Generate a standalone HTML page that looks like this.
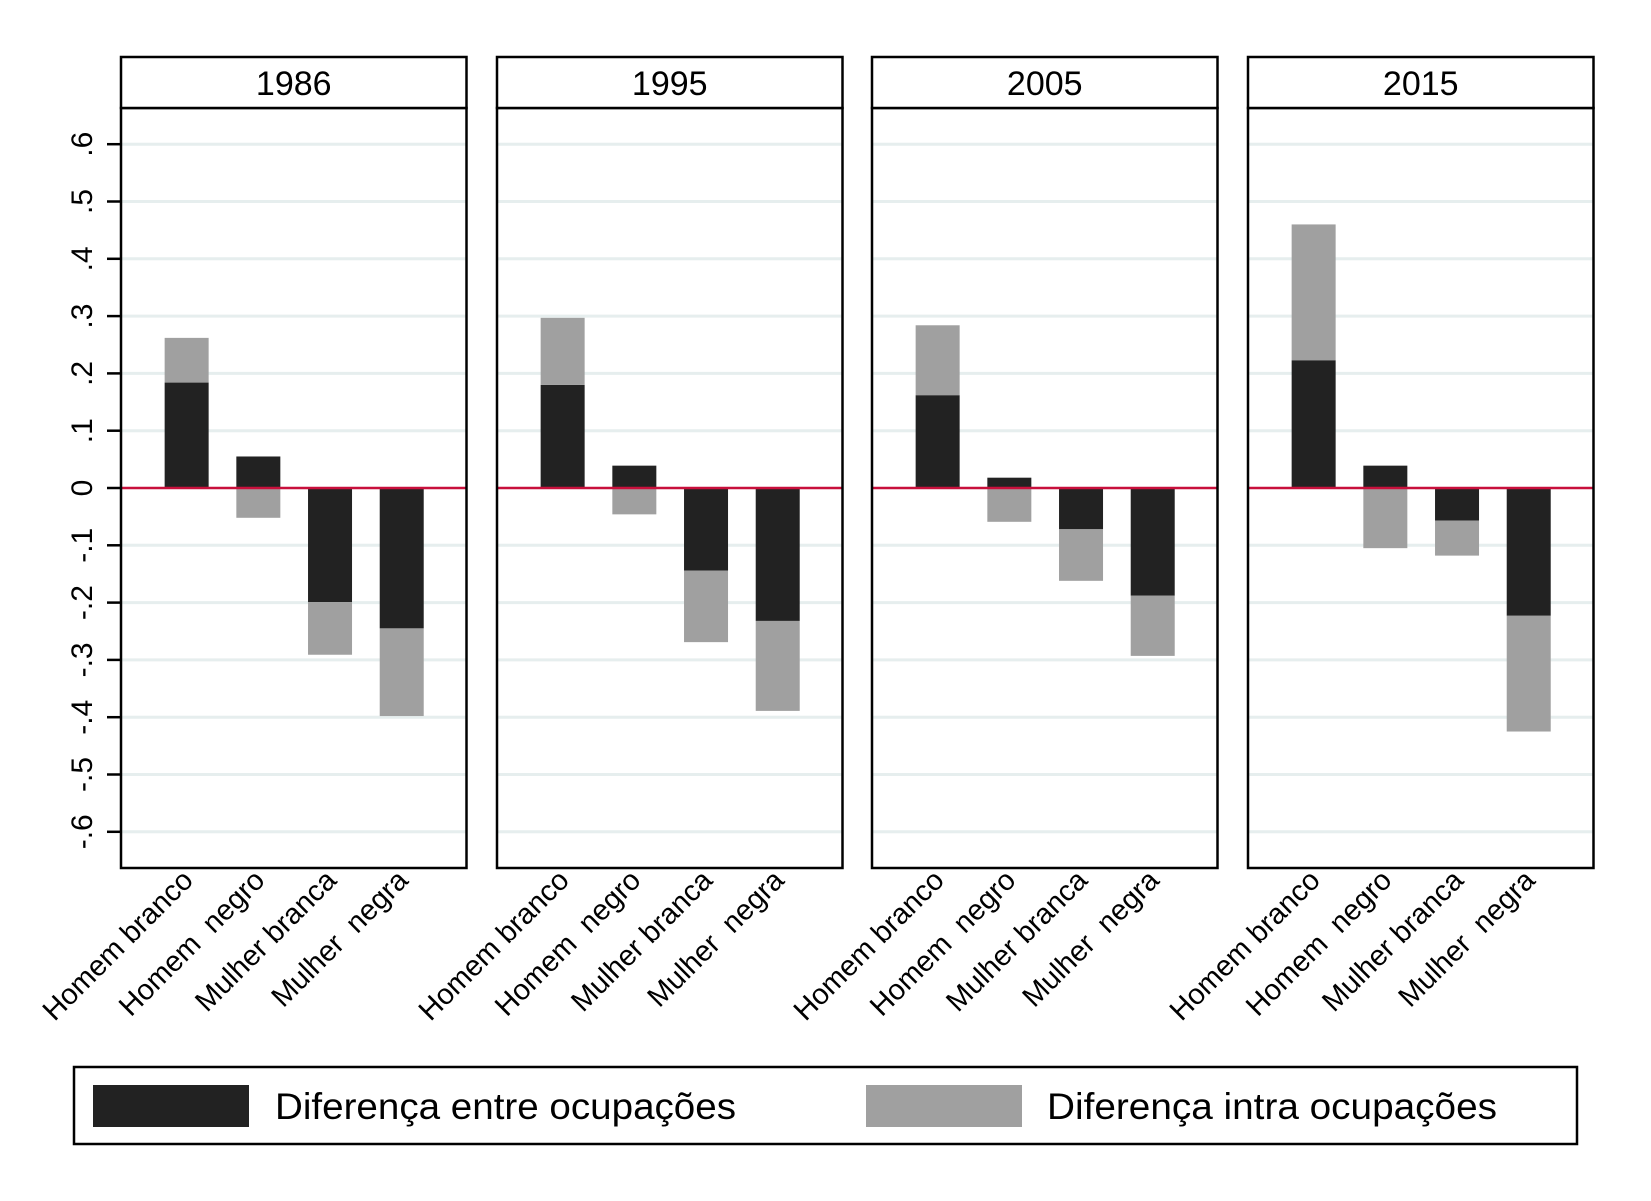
<!DOCTYPE html>
<html><head><meta charset="utf-8"><style>
html,body{margin:0;padding:0;background:#fff;}
svg{display:block;font-family:"Liberation Sans",sans-serif;}
text{white-space:pre;}
</style></head><body>
<svg id="chart" width="1651" height="1201" viewBox="0 0 1651 1201" xmlns="http://www.w3.org/2000/svg"></svg>
<script>
const years = ["1986","1995","2005","2015"];
const categories = ["Homem branco","Homem  negro","Mulher branca","Mulher  negra"];
const entre1986 = [0.184, 0.055, -0.199, -0.245];
const intra1986 = [0.078, -0.052, -0.092, -0.153];
const entre1995 = [0.180, 0.039, -0.144, -0.232];
const intra1995 = [0.117, -0.046, -0.125, -0.157];
const entre2005 = [0.162, 0.018, -0.072, -0.188];
const intra2005 = [0.122, -0.059, -0.090, -0.105];
const entre2015 = [0.223, 0.039, -0.057, -0.223];
const intra2015 = [0.237, -0.105, -0.061, -0.202];
const yTicks = [0.6,0.5,0.4,0.3,0.2,0.1,0,-0.1,-0.2,-0.3,-0.4,-0.5,-0.6];
const yTickLabels = [".6",".5",".4",".3",".2",".1","0","-.1","-.2","-.3","-.4","-.5","-.6"];
const legendLabels = ["Diferença entre ocupações","Diferença intra ocupações"];

const entreSeries = [entre1986, entre1995, entre2005, entre2015];
const intraSeries = [intra1986, intra1995, intra2005, intra2015];

const NS = "http://www.w3.org/2000/svg";
const svg = document.getElementById('chart');
function mk(tag, attrs, parent){
  const e = document.createElementNS(NS, tag);
  for (const k in attrs) e.setAttribute(k, attrs[k]);
  (parent||svg).appendChild(e);
  return e;
}
const zeroY = 488, unit = 573;
function yScale(v){ return zeroY - v*unit; }
const panelLefts = [121, 497, 872, 1248];
const panelW = 345.5;
const plotTop = 108, plotBot = 868, titleTop = 57;
function xScale(p, i){ return panelLefts[p] + panelW*(0.19 + i*0.2075); }
const barW = 44;

yTicks.forEach((t, k) => {
  const y = yScale(t);
  const tk = mk('line', {x1:107, x2:121, y1:y, y2:y, stroke:'#000', 'stroke-width':2.5});
  
  
  const lb = mk('text', {x:0, y:0, transform:`translate(92,${y}) rotate(-90)`, 'text-anchor':'middle', 'font-size':30, fill:'#000'});
  lb.textContent = yTickLabels[k];
  
  
});

years.forEach((yr, p) => {
  const L = panelLefts[p];
  const g = mk('g', {});
  
  
  yTicks.forEach(t => {
    if (t === 0) return;
    const gl = mk('line', {x1:L, x2:L+panelW, y1:yScale(t), y2:yScale(t), stroke:'#e6eeee', 'stroke-width':3}, g);
    
    
  });
  categories.forEach((c, i) => {
    const cx = xScale(p, i);
    const e = entreSeries[p][i], it = intraSeries[p][i];
    const y0 = yScale(0), y1 = yScale(e);
    const b1 = mk('rect', {x:cx-barW/2, y:Math.min(y0,y1), width:barW, height:Math.abs(y1-y0), fill:'#222222'}, g);
    
    
    const base = (Math.sign(it) === Math.sign(e)) ? e : 0;
    const ya = yScale(base), yb = yScale(base + it);
    const b2 = mk('rect', {x:cx-barW/2, y:Math.min(ya,yb), width:barW, height:Math.abs(yb-ya), fill:'#a0a0a0'}, g);
    
    
    const tl = mk('text', {x:0, y:0, transform:`translate(${cx+8},${plotBot+14}) rotate(-45)`, 'text-anchor':'end', 'font-size':29, fill:'#000'}, g);
    tl.textContent = c;
    
    
  });
  const z = mk('line', {x1:L, x2:L+panelW, y1:zeroY, y2:zeroY, stroke:'#c8103c', 'stroke-width':2.5}, g);
  
  
  const fr = mk('rect', {x:L, y:plotTop, width:panelW, height:plotBot-plotTop, fill:'none', stroke:'#000', 'stroke-width':2.5}, g);
  
  
  const tb = mk('rect', {x:L, y:titleTop, width:panelW, height:plotTop-titleTop, fill:'#fff', stroke:'#000', 'stroke-width':2.5}, g);
  
  
  const tt = mk('text', {x:L+panelW/2, y:95, 'text-anchor':'middle', 'font-size':34, fill:'#000'}, g);
  tt.textContent = yr;
  
  
});

const lg = mk('g', {});


const lbx = mk('rect', {x:74, y:1067, width:1503, height:77, fill:'#fff', stroke:'#000', 'stroke-width':2.5}, lg);


const swX = [93, 866], txX = [275, 1047], swC = ['#222222', '#a0a0a0'], txW = [461, 450];
legendLabels.forEach((l, k) => {
  const s = mk('rect', {x:swX[k], y:1085, width:156, height:42, fill:swC[k]}, lg);
  
  
  const t = mk('text', {x:txX[k], y:1119, 'font-size':37, fill:'#000', textLength:txW[k], lengthAdjust:'spacingAndGlyphs'}, lg);
  t.textContent = l;
  
  
});
</script>
</body></html>
